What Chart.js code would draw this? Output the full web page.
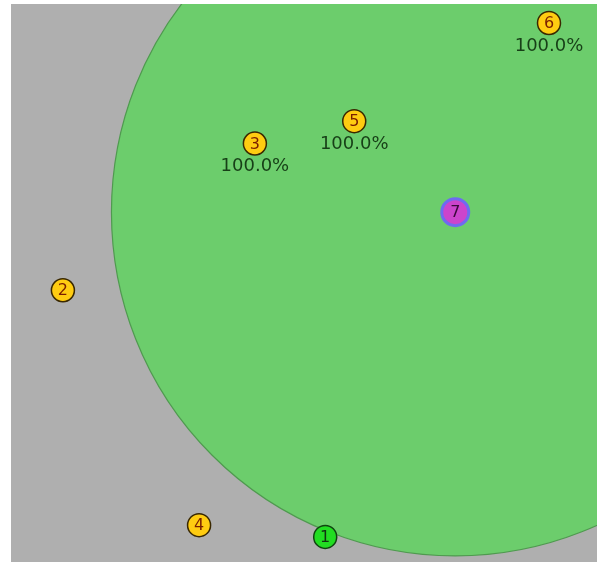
<!DOCTYPE html>
<html>
<head>
<meta charset="utf-8">
<script src="https://cdn.jsdelivr.net/npm/chart.js@4"></script>
<style>
html,body{margin:0;padding:0;background:#fff;}
#wrap{width:597px;height:562px;position:relative;}
</style>
</head>
<body>
<div id="wrap"><canvas id="c" width="597" height="562"></canvas></div>
<script>
// Data (axis units)
const pointIds   = ["1", "2", "3", "4", "5", "6", "7"];
const pointX     = [56.3, 9.3, 43.7, 33.7, 61.5, 96.4, 79.6];
const pointY     = [4.5, 48.7, 75.0, 6.6, 79.0, 96.6, 62.7];
const pointLabel = ["", "", "100.0%", "", "100.0%", "100.0%", ""];
const pointKind  = ["base", "node", "node", "node", "node", "node", "center"];
const coverageCenterIndex = 6;
const coverageRadius = 61.6; // in x-axis units
const xRange = [0, 105];
const yRange = [0, 100];

const fillByKind   = {base: "#22dd22", node: "#ffcc11", center: "#cc44cc"};
const borderByKind = {base: "#114411", node: "#3a2800", center: "#6f6af0"};
const textByKind   = {base: "#113311", node: "#7a1e00", center: "#3a0a3a"};
const radiusByKind = {base: 11.5, node: 11.5, center: 13.5};

const data = pointX.map((x, i) => ({x: x, y: pointY[i]}));

const bgPlugin = {
  id: "bg",
  beforeDatasetsDraw(chart) {
    const {ctx, chartArea: a, scales} = chart;
    ctx.save();
    ctx.fillStyle = "#afafaf";
    ctx.fillRect(a.left, a.top, a.right - a.left, a.bottom - a.top);
    ctx.beginPath();
    ctx.rect(a.left, a.top, a.right - a.left, a.bottom - a.top);
    ctx.clip();
    const cx = scales.x.getPixelForValue(pointX[coverageCenterIndex]);
    const cy = scales.y.getPixelForValue(pointY[coverageCenterIndex]);
    const r = scales.x.getPixelForValue(coverageRadius) - scales.x.getPixelForValue(0);
    ctx.beginPath();
    ctx.arc(cx, cy, r, 0, Math.PI * 2);
    ctx.fillStyle = "#6ccd6c";
    ctx.fill();
    ctx.lineWidth = 1.2;
    ctx.strokeStyle = "#4f9a4f";
    ctx.stroke();
    ctx.restore();
  },
  afterDatasetsDraw(chart) {
    const {ctx} = chart;
    const meta = chart.getDatasetMeta(0);
    ctx.save();
    meta.data.forEach((el, i) => {
      const k = pointKind[i];
      ctx.font = "16px 'DejaVu Sans'";
      ctx.textAlign = "center";
      ctx.textBaseline = "middle";
      ctx.fillStyle = textByKind[k];
      ctx.fillText(pointIds[i], el.x, el.y + 1);
      if (pointLabel[i]) {
        ctx.font = "18px 'DejaVu Sans'";
        ctx.fillStyle = "#173f17";
        ctx.textBaseline = "middle";
        ctx.fillText(pointLabel[i], el.x, el.y + 23);
      }
    });
    ctx.restore();
  }
};

new Chart(document.getElementById("c"), {
  type: "scatter",
  data: {
    datasets: [{
      data: data,
      clip: false,
      pointRadius: pointKind.map(k => radiusByKind[k]),
      pointHoverRadius: pointKind.map(k => radiusByKind[k]),
      backgroundColor: pointKind.map(k => fillByKind[k]),
      borderColor: pointKind.map(k => borderByKind[k]),
      borderWidth: pointKind.map(k => k === "center" ? 3 : 1.5)
    }]
  },
  options: {
    responsive: false,
    animation: false,
    devicePixelRatio: 1,
    layout: {autoPadding: false, padding: {left: 11, top: 4, right: 0, bottom: 0}},
    plugins: {legend: {display: false}, tooltip: {enabled: false}},
    scales: {
      x: {type: "linear", display: false, min: xRange[0], max: xRange[1]},
      y: {type: "linear", display: false, min: yRange[0], max: yRange[1]}
    }
  },
  plugins: [bgPlugin]
});
</script>
</body>
</html>
